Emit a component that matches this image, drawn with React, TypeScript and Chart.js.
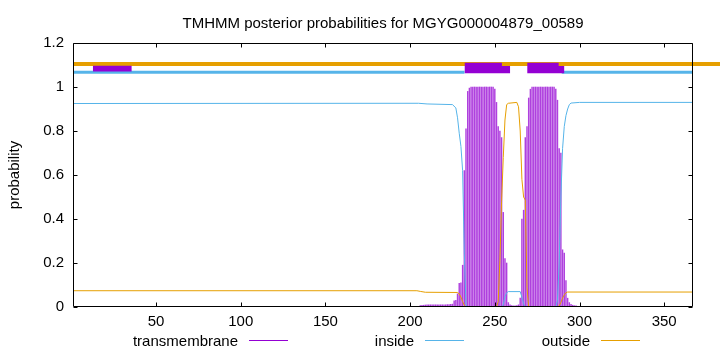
import React, { useEffect, useRef } from "react";
import { Chart, registerables } from "chart.js";

Chart.register(...registerables);

// ---------- data ----------
const TITLE = "TMHMM posterior probabilities for MGYG000004879_00589";
const Y_TITLE = "probability";
const SEQ_START = 1;
const SEQ_END = 367;
const X_TICKS = [50, 100, 150, 200, 250, 300, 350];
const Y_TICKS = [0, 0.2, 0.4, 0.6, 0.8, 1, 1.2];
const LEGEND_LABELS = ["transmembrane", "inside", "outside"];

// transmembrane posterior (impulses), residues from TM_FIRST onward
const TM_FIRST = 206;
const TM_PROB = [
  0.006, 0.008, 0.008, 0.009, 0.01, 0.01, 0.01, 0.01, 0.01, 0.01, // 206-215
  0.01, 0.01, 0.01, 0.01, 0.01, 0.01, 0.011, 0.011, 0.012, 0.013, // 216-225
  0.028, 0.03, 0.06, 0.108, 0.11, 0.19, 0.62, 0.81, 0.98, 0.995, // 226-235
  1, 1, 1, 1, 1, 1, 1, 1, 1, 1, // 236-245
  1, 1, 1, 1, 0.99, 0.93, 0.82, 0.8, 0.77, 0.43, // 246-255
  0.22, 0.2, 0.02, 0.01, 0.006, 0.005, 0.005, 0.006, 0.01, 0.04, // 256-265
  0.4, 0.44, 0.77, 0.82, 0.95, 0.99, 1, 1, 1, 1, // 266-275
  1, 1, 1, 1, 1, 1, 1, 1, 1, 1, // 276-285
  0.99, 0.94, 0.72, 0.7, 0.26, 0.245, 0.12, 0.04, 0.02, 0.012, // 286-295
  0.008, 0.006, 0.005, // 296-298
];

// inside posterior (line vertices)
const INSIDE_POS = [1, 205, 210, 225, 227, 228, 229, 230, 231, 232, 233, 234, 254, 255, 256, 257, 258, 265, 266, 267, 268, 286, 287, 288, 289, 290, 291, 292, 293, 294, 295, 300, 367];
const INSIDE_PROB = [0.925, 0.926, 0.923, 0.92, 0.905, 0.86, 0.79, 0.73, 0.62, 0.245, 0.01, 0, 0, 0.01, 0.047, 0.065, 0.07, 0.07, 0.045, 0.015, 0, 0, 0.03, 0.2, 0.5, 0.72, 0.82, 0.87, 0.9, 0.92, 0.927, 0.93, 0.93];

// outside posterior (line vertices)
const OUTSIDE_POS = [1, 204, 206, 209, 228, 229, 230, 231, 232, 233, 251, 252, 253, 254, 255, 256, 257, 258, 263, 264, 265, 266, 267, 268, 269, 270, 287, 288, 289, 290, 291, 292, 293, 367];
const OUTSIDE_PROB = [0.074, 0.074, 0.071, 0.067, 0.066, 0.06, 0.045, 0.025, 0.008, 0, 0, 0.024, 0.21, 0.48, 0.68, 0.85, 0.92, 0.926, 0.93, 0.91, 0.8, 0.58, 0.5, 0.486, 0.09, 0, 0, 0.005, 0.02, 0.04, 0.055, 0.065, 0.068, 0.068];

// predicted topology strip at the top
const TOPO_OUTSIDE_Y = 1.105;
const TOPO_OUTSIDE_RANGE = [1, 400];
const TOPO_INSIDE_Y = 1.067;
const TOPO_INSIDE_START = [1, 289.5];
const TOPO_INSIDE_END = [232.1, 367];
const TOPO_BOX_START = [12.7, 232.1, 269.1];
const TOPO_BOX_END = [35.7, 254.2, 287.7];
const TOPO_BOX_TAIL_END = [35.7, 259.1, 291.1];
const TOPO_BOX_TOP = [1.097, 1.11, 1.11];
const TOPO_BOX_TAIL_TOP = [1.097, 1.095, 1.095];
const TOPO_BOX_BOTTOM = [1.07, 1.062, 1.062];

// ---------- styles ----------
const PURPLE = "#9400D3";
const BLUE = "#56B4E9";
const ORANGE = "#E69F00";
const FONT = "Liberation Sans";
const TICK_LEN = 4;

const framePlugin = {
  id: "frameAndText",
  afterDraw(chart: any) {
    const { ctx, chartArea } = chart;
    const { left, right, top, bottom } = chartArea;
    const xs = chart.scales.x;
    const ys = chart.scales.y;
    ctx.save();
    ctx.strokeStyle = "#000";
    ctx.lineWidth = 1;
    const L = Math.round(left) + 0.5;
    const R = Math.round(right) - 0.5;
    const T = Math.round(top) + 0.5;
    const B = Math.round(bottom) - 0.5;
    ctx.beginPath();
    ctx.rect(L, T, R - L, B - T);
    for (const v of X_TICKS) {
      const p = Math.round(xs.getPixelForValue(v)) + 0.5;
      ctx.moveTo(p, B);
      ctx.lineTo(p, B - TICK_LEN);
      ctx.moveTo(p, T);
      ctx.lineTo(p, T + TICK_LEN);
    }
    for (const v of Y_TICKS) {
      const p = Math.round(ys.getPixelForValue(v)) + 0.5;
      ctx.moveTo(L, p);
      ctx.lineTo(L + TICK_LEN, p);
      ctx.moveTo(R, p);
      ctx.lineTo(R - TICK_LEN, p);
    }
    ctx.stroke();

    ctx.fillStyle = "#000";
    ctx.font = `15px "${FONT}"`;
    ctx.textAlign = "center";
    ctx.textBaseline = "alphabetic";
    ctx.fillText(TITLE, (left + right) / 2, 28);

    const legendTextRight = [238, 414, 590];
    const legendColors = [PURPLE, BLUE, ORANGE];
    ctx.textAlign = "right";
    LEGEND_LABELS.forEach((lab, i) => {
      ctx.fillStyle = "#000";
      ctx.fillText(lab, legendTextRight[i], 345.5);
      ctx.strokeStyle = legendColors[i];
      ctx.beginPath();
      ctx.moveTo(legendTextRight[i] + 11, 340.5);
      ctx.lineTo(legendTextRight[i] + 50, 340.5);
      ctx.stroke();
    });
    ctx.restore();
  },
};

export default function App() {
  const canvasRef = useRef<HTMLCanvasElement | null>(null);

  useEffect(() => {
    if (!canvasRef.current) return;
    Chart.defaults.font.family = FONT;
    Chart.defaults.font.size = 15;
    Chart.defaults.color = "#000";

    const pts = (xs: number[], ys: number[]) => xs.map((x, i) => ({ x, y: ys[i] }));

    const datasets: any[] = [];

    // topology boxes (on top)
    TOPO_BOX_START.forEach((s, i) => {
      datasets.push({
        type: "line",
        data: [
          { x: s, y: TOPO_BOX_TOP[i] },
          { x: TOPO_BOX_END[i], y: TOPO_BOX_TOP[i] },
          { x: TOPO_BOX_END[i], y: TOPO_BOX_TAIL_TOP[i] },
          { x: TOPO_BOX_TAIL_END[i], y: TOPO_BOX_TAIL_TOP[i] },
        ],
        borderColor: "rgba(0,0,0,0)",
        borderWidth: 0,
        backgroundColor: PURPLE,
        fill: { value: TOPO_BOX_BOTTOM[i] },
        pointRadius: 0,
        order: 0,
      });
    });

    datasets.push({
      type: "line",
      data: [
        { x: TOPO_OUTSIDE_RANGE[0], y: TOPO_OUTSIDE_Y },
        { x: TOPO_OUTSIDE_RANGE[1], y: TOPO_OUTSIDE_Y },
      ],
      borderColor: ORANGE,
      borderWidth: 4,
      pointRadius: 0,
      fill: false,
      clip: false,
      order: 1,
    });

    TOPO_INSIDE_START.forEach((s, i) => {
      datasets.push({
        type: "line",
        data: [
          { x: s, y: TOPO_INSIDE_Y },
          { x: TOPO_INSIDE_END[i], y: TOPO_INSIDE_Y },
        ],
        borderColor: BLUE,
        borderWidth: 3,
        pointRadius: 0,
        fill: false,
        order: 1,
      });
    });

    datasets.push({
      type: "line",
      label: LEGEND_LABELS[2],
      data: pts(OUTSIDE_POS, OUTSIDE_PROB),
      borderColor: ORANGE,
      borderWidth: 1,
      pointRadius: 0,
      fill: false,
      order: 2,
    });
    datasets.push({
      type: "line",
      label: LEGEND_LABELS[1],
      data: pts(INSIDE_POS, INSIDE_PROB),
      borderColor: BLUE,
      borderWidth: 1,
      pointRadius: 0,
      fill: false,
      order: 3,
    });
    datasets.push({
      type: "bar",
      label: LEGEND_LABELS[0],
      data: TM_PROB.map((v, i) => ({ x: TM_FIRST + i, y: v })),
      backgroundColor: "rgba(148,0,211,0.75)",
      borderWidth: 0,
      barThickness: 0.8,
      order: 5,
    });

    const chart = new Chart(canvasRef.current, {
      type: "line",
      data: { datasets },
      plugins: [framePlugin],
      options: {
        animation: false,
        responsive: false,
        devicePixelRatio: 1,
        layout: { padding: { left: 0, right: 27, top: 43, bottom: 0 } },
        plugins: {
          legend: { display: false },
          title: { display: false },
          tooltip: { enabled: false },
        },
        scales: {
          x: {
            type: "linear",
            min: SEQ_START,
            max: SEQ_END,
            offset: false,
            grid: { display: false, drawTicks: false },
            border: { display: false },
            ticks: {
              padding: 6,
              font: { size: 15, family: FONT },
              color: "#000",
              maxRotation: 0,
              callback: (v: any) => String(v),
            },
            afterBuildTicks: (s: any) => {
              s.ticks = X_TICKS.map((v) => ({ value: v }));
            },
            afterFit: (s: any) => {
              s.height = 45;
            },
          },
          y: {
            type: "linear",
            min: Y_TICKS[0],
            max: Y_TICKS[Y_TICKS.length - 1],
            grid: { display: false, drawTicks: false },
            border: { display: false },
            ticks: {
              padding: 9,
              font: { size: 15, family: FONT },
              color: "#000",
              callback: (v: any) => String(Math.round(Number(v) * 10) / 10),
            },
            afterBuildTicks: (s: any) => {
              s.ticks = Y_TICKS.map((v) => ({ value: v }));
            },
            afterFit: (s: any) => {
              s.width = 73;
            },
            title: {
              display: true,
              text: Y_TITLE,
              font: { size: 15, family: FONT },
              color: "#000",
              padding: { top: 6, bottom: 0 },
            },
          },
        },
      } as any,
    });
    return () => chart.destroy();
  }, []);

  return (
    <div style={{ position: "fixed", left: 0, top: 0, width: 720, height: 352, background: "#fff" }}>
      <canvas ref={canvasRef} width={720} height={352} style={{ width: 720, height: 352 }} />
    </div>
  );
}
